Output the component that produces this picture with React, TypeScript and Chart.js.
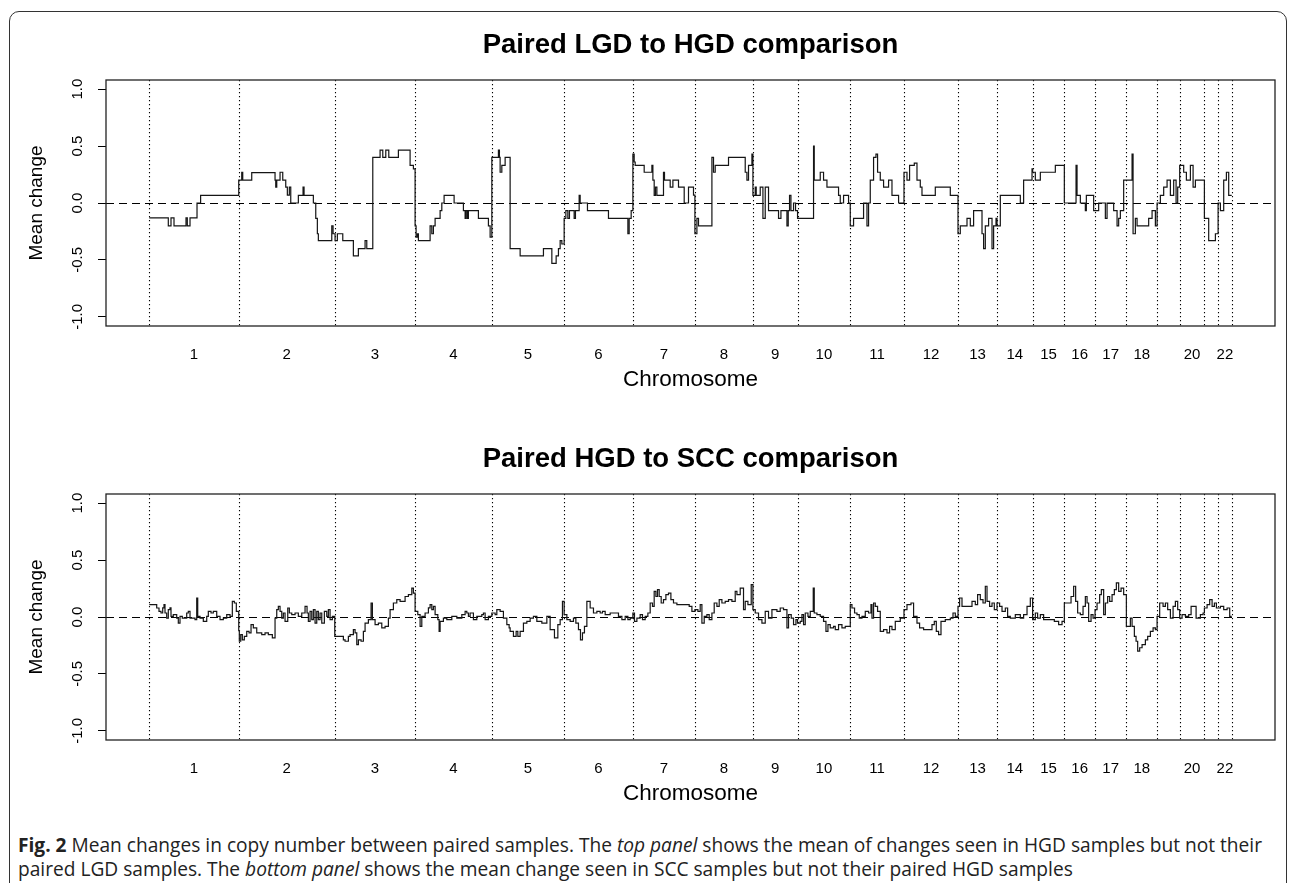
import React, { useEffect, useRef } from "react";
import { Chart, registerables } from "chart.js";

Chart.register(...registerables);

// Chromosome boundaries (genome index units, start of chr1 .. end of chr22)
const chromBounds = [0, 89.4, 185.4, 265.7, 342.4, 414.7, 483.4, 545.4, 603.4, 648, 700.7, 754.4, 808.4, 847.4, 883, 914.7, 945.4, 976.7, 1007.4, 1030, 1054.7, 1068.4, 1082];
const chromLabels = ["1", "2", "3", "4", "5", "6", "7", "8", "9", "10", "11", "12", "13", "14", "15", "16", "17", "18", "19", "20", "21", "22"];
const hiddenLabels = ["19", "21"];
const yTicks = [-1, -0.5, 0, 0.5, 1];

// Top panel: Paired LGD to HGD (segment starts + values)
const topPos = [
  0, 19.0, 21.7, 24.7, 36.7, 38.0, 40.7, 47.7, 51.3,
  89.4, 92.4, 93.4, 102.4, 125.7, 126.4, 127.4, 130.7, 133.4, 136.4, 138, 140, 141.4, 149, 153.7, 154.7, 164, 166.4, 168, 169,
  182.4, 183.7, 185.7, 188, 193.4, 204, 209, 215.7, 217.4, 223.4, 230.7, 233.4, 236.4, 239.4, 249, 260.7, 264,
  265.7, 266.7, 268, 269, 280.7, 282.4, 284, 285.7, 290.7, 292.4, 294.7, 304.7, 314, 315.7, 316.7, 318, 319, 329, 339, 340.7,
  342.4, 349, 350, 350.7, 352.4, 355.7, 360.7, 370.7, 394, 402.4, 406.7, 409, 410.7, 412.4,
  414.7, 416.4, 418.4, 420, 424.7, 426, 429.7, 430.7, 438, 459, 478.4, 479.7, 481.7,
  483.4, 484.7, 485.7, 494.7, 502.4, 503.4, 504.7, 506, 507.4, 514, 515, 520.7, 523.4, 529, 534.7, 539, 544,
  545.4, 547.4, 549, 552.4, 562.4, 564, 565.7, 579, 595.7, 597.4, 599, 602.4,
  603.4, 605.7, 606.7, 610.7, 613.4, 615.7, 619, 629, 631.4, 637.4, 638.7, 640, 641.4, 644, 646,
  648, 664, 664.7, 670.7, 674, 677.4, 689, 690.7, 694, 699,
  700.7, 704, 714, 717.4, 719, 720.7, 724, 726.4, 728, 730.7, 734, 739, 742.4, 749,
  754.4, 757.4, 760, 764.7, 767.4, 770.7, 772.4, 785.7, 800.7,
  808.4, 810.7, 817.4, 820.7, 824, 832.4, 834, 835.7, 839, 842.4, 844, 846.4,
  847.4, 850.7, 870.7, 874, 882.4,
  883, 885.7, 890.7, 905.7,
  914.7, 926.4, 927.4, 930.7, 935.7, 936.7, 944,
  945.4, 949, 955.7, 957.4, 964, 967.4, 969, 970.7, 974,
  976.7, 982.4, 983.4, 985.7, 987.4, 999, 1002.4, 1005.7,
  1007.4, 1010.7, 1014, 1017.4, 1020.7, 1024, 1026.4, 1028,
  1030, 1034, 1036.7, 1040.7, 1043.4, 1045.7,
  1054.7, 1059, 1065.7,
  1068.4, 1070.7, 1074, 1076.7, 1079, 1082,
];
const topVal = [
  -0.13, -0.2, -0.13, -0.2, -0.13, -0.2, -0.13, 0.0, 0.067,
  0.2, 0.27, 0.2, 0.267, 0.2, 0.14, 0.2, 0.27, 0.2, 0.14, 0.07, 0.14, 0.0, 0.067, 0.14, 0.067, 0.0, -0.135, -0.27, -0.33,
  -0.2, -0.27, -0.33, -0.27, -0.33, -0.465, -0.4, -0.33, -0.4, 0.4, 0.465, 0.4, 0.465, 0.4, 0.465, 0.33, 0.3,
  -0.2, -0.3, -0.27, -0.33, -0.2, -0.27, -0.2, -0.135, -0.067, 0, 0.067, 0, -0.067, -0.135, -0.067, -0.135, -0.067, -0.135, -0.2, -0.3,
  0.4, 0.465, 0.4, 0.27, 0.33, 0.4, -0.4, -0.465, -0.4, -0.53, -0.465, -0.4, -0.33, -0.36,
  -0.135, -0.067, -0.135, -0.067, -0.135, -0.067, 0.067, 0, -0.067, -0.135, -0.27, -0.135, -0.067,
  0.43, 0.36, 0.33, 0.27, 0.33, 0.2, 0.067, 0.14, 0.067, 0.27, 0.2, 0.14, 0.2, 0.14, 0.0, 0.14, 0.07,
  -0.27, -0.135, -0.2, -0.2, 0.4, 0.27, 0.33, 0.4, 0.27, 0.2, 0.33, 0.43,
  0.067, 0.14, 0.067, 0.14, -0.135, 0.14, -0.067, -0.135, -0.067, -0.2, -0.067, 0.067, -0.067, 0, -0.067,
  -0.135, 0.5, 0.2, 0.27, 0.2, 0.14, 0.067, 0, 0.067, 0,
  -0.2, -0.135, 0, -0.2, 0, 0.2, 0.4, 0.43, 0.27, 0.2, 0.14, 0.2, 0.067, 0,
  0.27, 0.2, 0.33, 0.35, 0.2, 0.14, 0.067, 0.14, 0.067,
  -0.27, -0.2, -0.135, -0.2, -0.067, -0.27, -0.4, -0.2, -0.135, -0.4, -0.2, -0.135,
  -0.2, 0.067, 0, 0.2, 0.3,
  0.27, 0.2, 0.27, 0.33,
  0, 0.33, 0.067, 0, -0.067, 0.067, -0.067,
  -0.067, 0, -0.135, 0, -0.067, -0.2, -0.135, -0.067, 0.2,
  0.2, 0.43, -0.27, -0.135, -0.2, -0.135, -0.067, -0.2,
  0, 0.067, 0.14, 0.2, 0.067, 0.2, 0, 0.14,
  0.33, 0.27, 0.2, 0.33, 0.14, 0.2,
  -0.135, -0.33, -0.27,
  0, -0.067, 0.2, 0.27, 0.067, 0.067,
];

// Bottom panel: Paired HGD to SCC (segment starts + values)
const bottomPos = [
  // chr1
  0, 7.4, 9.7, 11.7, 13.4, 14.7, 15.7, 17.4, 19, 20.7, 21.7, 24, 27.4, 29, 30.7, 33, 37.4, 39, 40.7, 45.7, 47.4, 48.4, 50.7, 54, 57.4, 59, 61.7, 64, 67.4, 70.7, 74, 77.4, 80.7, 83, 85, 87,
  // chr2
  89.4, 90, 91.4, 93, 95, 97.4, 99.7, 101.7, 104, 107.4, 112.4, 115.7, 119, 123, 125.7, 127.4, 129, 130.7, 132.4, 134, 135.7, 138.4, 140, 142.4, 145.7, 149, 152.4, 155.7, 157.7, 159, 160.7, 162.4, 164, 165.7, 167.4, 169, 170.7, 172.4, 175, 177.4, 179, 180.7, 183,
  // chr3
  185.4, 189, 194, 195.7, 199, 200.7, 204, 205.7, 207.4, 209, 211.7, 214, 215.7, 219, 221.7, 223, 225.7, 229, 232.4, 235.7, 239, 240.7, 244, 247.4, 250.7, 255.7, 259, 262.4, 264,
  // chr4
  265.7, 268.4, 270.7, 272.4, 275.7, 279, 280.7, 282.4, 284, 285.7, 288.4, 289.7, 290.7, 294, 297.4, 302.4, 307.4, 312.4, 315.7, 317.4, 319, 320.7, 324, 327.4, 332.4, 334, 335.7, 339,
  // chr5
  342.4, 345.7, 347.4, 350.7, 354, 357.4, 359.7, 360.7, 364, 366.7, 368.4, 370.7, 374, 377.4, 380.7, 384, 387.4, 392.4, 397.4, 400.7, 405, 408.4, 410.7, 413,
  // chr6
  414.7, 417.4, 420.7, 424, 426.4, 429, 431, 433, 435, 437.4, 440.7, 444, 447.4, 450.7, 453, 455.7, 460.7, 465.7, 469, 472.4, 475.7, 478.4, 480.7,
  // chr7
  483.4, 485, 487.4, 490.7, 493, 495.7, 498.4, 500.7, 503, 504.7, 506.4, 508, 509.7, 511.7, 514, 516.4, 519, 521.4, 524, 527.4, 535.7, 539.7, 542.4,
  // chr8
  545.4, 548.4, 550.7, 552.4, 554.7, 557.4, 559.7, 562.4, 564.7, 567.4, 569.7, 572.4, 575.7, 579, 582.4, 585.7, 587.4, 590.7, 594, 595.7, 598.4, 601.7,
  // chr9
  603.4, 605.7, 609, 612.4, 615.7, 619, 622.4, 627.4, 630.7, 634, 637.4, 639, 641.7, 644, 646.4,
  // chr10
  648, 650.7, 652.4, 654, 655.7, 658.4, 660.7, 663.7, 664.7, 667.4, 670.7, 674, 676.4, 678.4, 680.7, 684, 685.7, 689, 692.4, 695.7,
  // chr11
  700.7, 702.4, 705, 707.4, 709.7, 712.4, 715.7, 719, 721.4, 722.4, 724, 725.7, 728, 730.7, 734, 737.4, 740, 742.4, 745.7, 750.7,
  // chr12
  754.4, 757.4, 761.4, 764, 767.4, 770, 774, 779, 782.4, 784.7, 786.7, 789, 791.4, 795.7, 800.7, 803.4, 805.7,
  // chr13
  808.4, 810, 812.4, 817.4, 822.4, 825.7, 828, 830.7, 833.4, 835.7, 837.4, 840, 842.4, 844.7,
  // chr14
  847.4, 850, 852.4, 855.7, 858, 860.7, 865.7, 870.7, 874, 877.4, 880.7,
  // chr15
  883, 885.7, 888, 890.7, 894, 900.7, 904.7, 909, 912.4,
  // chr16
  914.7, 919, 921.4, 924, 926, 928, 930.7, 933.4, 935.7, 937.4, 939, 941.4, 943.4,
  // chr17
  945.4, 947.4, 950, 951.7, 954, 955.7, 958, 960, 962.4, 964.7, 966.7, 969, 971.4, 974,
  // chr18
  976.7, 980.7, 982.4, 984.7, 986.4, 988, 990, 992.4, 995.7, 998, 1000.7, 1003.4, 1005.7,
  // chr19
  1007.4, 1010, 1013.4, 1015.7, 1018, 1020.7, 1023.4, 1025.7, 1028,
  // chr20
  1030, 1032.4, 1035.7, 1039, 1041.4, 1044, 1046.4, 1050.7, 1053.4,
  // chr21
  1054.7, 1057.4, 1060, 1062.4, 1064.7, 1066.7,
  // chr22
  1068.4, 1070.7, 1074, 1077.4, 1080, 1082,
];
const bottomVal = [
  // chr1
  0.108, 0.079, 0.05, 0.035, 0.08, 0.108, 0.035, -0.009, 0.064, 0.08, 0.006, 0.02, -0.009, -0.053, 0.006, -0.009, 0.035, 0.05, -0.009, -0.023, 0.167, 0.006, -0.009, -0.038, 0.006, 0.05, 0.035, 0.05, 0.006, -0.023, -0.009, 0.02, 0.006, 0.137, 0.123, 0.05,
  // chr2
  -0.12, -0.213, -0.155, -0.2, -0.17, -0.126, -0.14, -0.067, -0.096, -0.14, -0.155, -0.14, -0.155, -0.184, -0.009, 0.064, 0.094, 0.05, -0.009, 0.035, -0.038, 0.079, 0.035, 0.02, 0.035, 0.006, 0.035, 0.094, 0.035, -0.038, 0.05, -0.023, 0.064, -0.053, 0.05, -0.023, 0.035, -0.053, 0.05, 0.006, 0.064, -0.023, 0.006,
  // chr3
  -0.17, -0.17, -0.2, -0.213, -0.17, -0.155, -0.11, -0.14, -0.243, -0.2, -0.213, -0.126, -0.053, -0.023, 0.123, -0.023, -0.067, -0.053, -0.096, -0.082, -0.009, 0.064, 0.123, 0.152, 0.137, 0.18, 0.196, 0.254, 0.21,
  // chr4
  0.05, 0.02, -0.082, 0.006, 0.035, 0.08, 0.108, 0.064, 0.094, 0.02, -0.023, -0.126, -0.038, -0.009, -0.023, 0.006, -0.009, 0.02, 0.05, 0.035, 0.006, 0.035, -0.023, 0.006, 0.02, 0.035, -0.023, 0.006,
  // chr5
  0.035, 0.02, 0.064, 0.05, -0.009, -0.067, -0.096, -0.126, -0.17, -0.126, -0.17, -0.126, -0.053, -0.038, -0.009, 0.006, -0.038, -0.053, 0.006, -0.111, -0.184, -0.067, -0.023, 0.137,
  // chr6
  0.02, -0.023, -0.038, -0.009, -0.053, -0.111, -0.2, -0.14, -0.082, 0.137, 0.079, 0.035, 0.05, 0.035, 0.05, 0.02, 0.035, 0.035, 0.006, -0.023, 0.006, -0.023, -0.009,
  // chr7
  0.035, -0.038, -0.009, 0.02, -0.023, 0.006, 0.035, 0.123, 0.094, 0.225, 0.18, 0.24, 0.18, 0.123, 0.152, 0.196, 0.21, 0.152, 0.123, 0.108, 0.108, 0.094, 0.05,
  // chr8
  0.064, 0.05, 0.108, -0.053, 0.006, 0.02, -0.023, 0.035, 0.123, 0.094, 0.152, 0.123, 0.137, 0.152, 0.137, 0.225, 0.196, 0.254, 0.064, 0.137, 0.108, 0.284,
  // chr9
  0.064, 0.035, -0.023, -0.053, 0.05, -0.009, 0.064, 0.05, 0.079, 0.064, -0.096, 0.02, -0.009, -0.067, -0.023,
  // chr10
  -0.053, -0.038, 0.02, -0.067, 0.035, 0.006, 0.05, 0.254, 0.035, 0.02, 0.006, -0.038, -0.126, -0.067, -0.096, -0.082, -0.111, -0.067, -0.096, -0.082,
  // chr11
  0.108, 0.079, 0.035, 0.02, -0.009, 0.006, 0.05, 0.035, 0.108, -0.009, 0.123, 0.094, 0.05, -0.126, -0.111, -0.14, -0.082, -0.111, -0.038, -0.009,
  // chr12
  0.064, 0.108, 0.123, 0.006, -0.053, -0.096, -0.111, -0.111, -0.067, -0.038, -0.126, -0.155, -0.038, -0.023, -0.009, 0.035, 0.006,
  // chr13
  0.094, 0.167, 0.094, 0.094, 0.137, 0.108, 0.196, 0.152, 0.123, 0.27, 0.137, 0.094, 0.123, 0.064,
  // chr14
  0.123, 0.094, 0.05, 0.079, 0.006, -0.009, 0.02, -0.009, 0.02, 0.094, 0.167,
  // chr15
  -0.023, 0.035, -0.009, 0.02, -0.023, -0.023, -0.038, -0.067, -0.038,
  // chr16
  0.123, 0.123, 0.18, 0.27, 0.137, 0.035, 0.02, 0.094, 0.18, 0.123, -0.038, 0.02, -0.009,
  // chr17
  0.064, 0.123, 0.196, 0.24, 0.02, 0.123, 0.18, 0.137, 0.196, 0.24, 0.3, 0.225, 0.254, 0.196,
  // chr18
  -0.082, -0.009, -0.082, -0.17, -0.213, -0.3, -0.27, -0.243, -0.2, -0.17, -0.126, -0.096, -0.11,
  // chr19
  0.006, 0.123, 0.094, 0.123, 0.064, -0.009, 0.094, 0.137, 0.064,
  // chr20
  -0.009, 0.02, 0.006, 0.02, 0.094, 0.094, -0.009, 0.02, 0.035,
  // chr21
  0.079, 0.108, 0.152, 0.094, 0.123, 0.079,
  // chr22
  0.079, 0.094, 0.064, 0.079, 0.006, 0.006,
];

const FONT = "'Liberation Sans', Arial, Helvetica, sans-serif";

function makeChart(canvas: HTMLCanvasElement, xs: number[], ys: number[]) {
  const span = chromBounds[chromBounds.length - 1] - chromBounds[0];
  const pad = span * 0.04;
  const mids: number[] = [];
  const labs: string[] = [];
  for (let i = 0; i < chromLabels.length; i++) {
    if (hiddenLabels.includes(chromLabels[i])) continue;
    mids.push((chromBounds[i] + chromBounds[i + 1]) / 2);
    labs.push(chromLabels[i]);
  }
  const decor = {
    id: "decor",
    beforeDatasetsDraw(chart: any) {
      const { ctx, chartArea: a, scales } = chart;
      ctx.save();
      ctx.strokeStyle = "#000";
      ctx.lineWidth = 1.1;
      ctx.setLineDash([1.2, 2.8]);
      for (const b of chromBounds) {
        const px = Math.round(scales.x.getPixelForValue(b)) + 0.5;
        ctx.beginPath();
        ctx.moveTo(px, a.top);
        ctx.lineTo(px, a.bottom);
        ctx.stroke();
      }
      ctx.setLineDash([8, 5]);
      ctx.lineWidth = 1.2;
      const py = Math.round(scales.y.getPixelForValue(0)) + 0.5;
      ctx.beginPath();
      ctx.moveTo(a.left, py);
      ctx.lineTo(a.right, py);
      ctx.stroke();
      ctx.restore();
    },
    afterDraw(chart: any) {
      const { ctx, chartArea: a } = chart;
      ctx.save();
      ctx.strokeStyle = "#222";
      ctx.lineWidth = 1.3;
      ctx.strokeRect(a.left, a.top, a.right - a.left, a.bottom - a.top);
      ctx.restore();
    },
  };
  return new Chart(canvas, {
    type: "line",
    data: {
      datasets: [
        {
          data: xs.map((x, i) => ({ x, y: ys[i] })),
          stepped: "before",
          borderColor: "#151515",
          borderWidth: 1.2,
          pointRadius: 0,
          fill: false,
        },
      ],
    },
    options: {
      animation: false,
      responsive: false,
      devicePixelRatio: 1,
      layout: { padding: { top: 80, right: 15, left: 0, bottom: 0 } },
      plugins: { legend: { display: false }, tooltip: { enabled: false }, title: { display: false } },
      scales: {
        x: {
          type: "linear",
          min: chromBounds[0] - pad,
          max: chromBounds[chromBounds.length - 1] + pad,
          afterBuildTicks: (s: any) => {
            s.ticks = mids.map((v) => ({ value: v }));
          },
          afterFit: (s: any) => {
            s.height = 74;
          },
          grid: { display: false, drawTicks: false },
          border: { display: false },
          ticks: {
            autoSkip: false,
            maxRotation: 0,
            minRotation: 0,
            padding: 20,
            color: "#000",
            font: { family: FONT, size: 15 },
            callback: (_v: any, i: number) => labs[i],
          },
          title: {
            display: true,
            text: "Chromosome",
            color: "#000",
            font: { family: FONT, size: 22.5 },
            padding: { top: 0, bottom: 7 },
          },
        },
        y: {
          type: "linear",
          min: -1.08,
          max: 1.08,
          afterBuildTicks: (s: any) => {
            s.ticks = yTicks.map((v) => ({ value: v }));
          },
          afterFit: (s: any) => {
            s.width = 106;
          },
          grid: { display: true, drawOnChartArea: false, drawTicks: true, tickLength: 8, color: "#000", lineWidth: 1 },
          border: { display: false },
          ticks: {
            minRotation: 90,
            maxRotation: 90,
            crossAlign: "center",
            padding: 7,
            color: "#000",
            font: { family: FONT, size: 15 },
            callback: (v: any) => Number(v).toFixed(1),
          },
          title: {
            display: true,
            text: "Mean change",
            color: "#000",
            font: { family: FONT, size: 19 },
            padding: { top: 25, bottom: 0 },
          },
        },
      },
    },
    plugins: [decor],
  } as any);
}

function Panel({ top, xs, ys }: { top: number; xs: number[]; ys: number[] }) {
  const ref = useRef<HTMLCanvasElement | null>(null);
  useEffect(() => {
    if (!ref.current) return;
    const c = makeChart(ref.current, xs, ys);
    return () => c.destroy();
  }, []);
  return (
    <canvas
      ref={ref}
      width={1290}
      height={400}
      style={{ position: "absolute", left: 0, top, width: 1290, height: 400 }}
    />
  );
}

const titleStyle: React.CSSProperties = {
  position: "absolute",
  left: 106,
  width: 1169,
  textAlign: "center",
  fontFamily: FONT,
  fontWeight: "bold",
  fontSize: 27.5,
  lineHeight: "30px",
  color: "#000",
};

export default function App() {
  return (
    <div style={{ position: "absolute", left: 0, top: 0, width: 1290, height: 883, background: "#fff", overflow: "hidden" }}>
      <div
        style={{
          position: "absolute",
          left: 9,
          top: 11,
          width: 1278,
          height: 920,
          border: "1.5px solid #333",
          borderRadius: "10px 10px 0 0",
          boxSizing: "border-box",
        }}
      />
      <Panel top={0} xs={topPos} ys={topVal} />
      <Panel top={414} xs={bottomPos} ys={bottomVal} />
      <div style={{ ...titleStyle, top: 29 }}>Paired LGD to HGD comparison</div>
      <div style={{ ...titleStyle, top: 443 }}>Paired HGD to SCC comparison</div>
      <div
        style={{
          position: "absolute",
          left: 18,
          top: 833,
          width: 1270,
          fontFamily: "'Open Sans', sans-serif",
          fontSize: 19.15,
          lineHeight: "24px",
          color: "#222",
          whiteSpace: "nowrap",
        }}
      >
        <div>
          <b>Fig. 2</b> Mean changes in copy number between paired samples. The <i>top panel</i> shows the mean of changes seen in HGD samples but not their
        </div>
        <div>
          paired LGD samples. The <i>bottom panel</i> shows the mean change seen in SCC samples but not their paired HGD samples
        </div>
      </div>
    </div>
  );
}
